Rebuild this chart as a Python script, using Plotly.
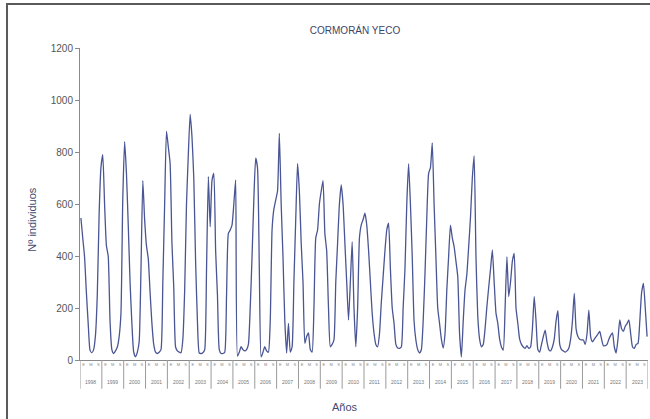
import plotly.graph_objects as go

years = list(range(1998, 2024))
season_labels = ["E", "M", "S"]

v1998 = [546, 470, 397, 260, 141, 38, 28, 40, 95, 250, 560, 740]
v1999 = [790, 600, 440, 400, 150, 40, 25, 35, 50, 90, 180, 620]
v2000 = [840, 720, 520, 300, 141, 30, 12, 30, 70, 350, 690, 540]
v2001 = [440, 390, 260, 141, 60, 30, 25, 30, 40, 300, 600, 880]
v2002 = [820, 756, 450, 280, 50, 35, 30, 28, 80, 270, 600, 790]
v2003 = [945, 860, 700, 380, 150, 27, 25, 28, 40, 350, 705, 513]
v2004 = [690, 718, 420, 250, 40, 25, 25, 30, 250, 487, 500, 519]
v2005 = [600, 692, 15, 30, 51, 40, 35, 40, 60, 200, 397, 620]
v2006 = [776, 740, 350, 12, 30, 51, 35, 30, 150, 500, 580, 615]
v2007 = [650, 872, 600, 397, 150, 27, 141, 30, 50, 300, 540, 756]
v2008 = [650, 450, 300, 64, 90, 104, 40, 30, 200, 470, 500, 600]
v2009 = [650, 690, 487, 420, 200, 51, 60, 77, 300, 450, 600, 673]
v2010 = [600, 450, 300, 154, 300, 455, 200, 51, 200, 470, 520, 540]
v2011 = [565, 520, 423, 300, 180, 104, 60, 51, 100, 220, 320, 420]
v2012 = [500, 526, 350, 200, 141, 60, 46, 45, 50, 200, 350, 600]
v2013 = [755, 600, 397, 150, 77, 40, 27, 40, 150, 333, 550, 718]
v2014 = [740, 835, 600, 397, 200, 141, 80, 46, 100, 270, 400, 519]
v2015 = [470, 436, 380, 321, 100, 12, 150, 270, 330, 436, 550, 700]
v2016 = [785, 400, 167, 80, 51, 60, 120, 205, 280, 350, 423, 300]
v2017 = [180, 141, 80, 50, 38, 200, 397, 244, 300, 380, 410, 200]
v2018 = [141, 80, 60, 50, 45, 55, 45, 50, 120, 244, 150, 40]
v2019 = [30, 60, 90, 115, 70, 40, 35, 50, 80, 150, 190, 60]
v2020 = [40, 35, 30, 35, 45, 80, 150, 256, 120, 90, 80, 77]
v2021 = [77, 60, 100, 192, 90, 70, 80, 90, 100, 110, 80, 55]
v2022 = [55, 60, 80, 95, 104, 50, 27, 80, 154, 120, 110, 130]
v2023 = [140, 154, 100, 50, 45, 60, 64, 150, 260, 295, 200, 90]

series = [v1998, v1999, v2000, v2001, v2002, v2003, v2004, v2005, v2006,
          v2007, v2008, v2009, v2010, v2011, v2012, v2013, v2014, v2015,
          v2016, v2017, v2018, v2019, v2020, v2021, v2022, v2023]

values = [v for yr in series for v in yr]
xs = [i + 0.5 for i in range(len(values))]

n_years = len(years)
total = n_years * 12

fig = go.Figure()
fig.add_trace(go.Scatter(
    x=xs, y=values, mode="lines",
    line=dict(color="#4a5593", width=1.3, shape="spline", smoothing=0.5),
    hoverinfo="skip", showlegend=False,
))

tickvals = []
ticktext = []
for k in range(n_years):
    for j, lab in enumerate(season_labels):
        tickvals.append(k * 12 + 2 + 4 * j)
        ticktext.append(lab)

shapes = []
for k in range(n_years + 1):
    shapes.append(dict(type="line", xref="x", yref="paper",
                       x0=k * 12, x1=k * 12, y0=0, y1=-0.092,
                       line=dict(color="#9a9a9a", width=1)))
# outer frame
shapes.append(dict(type="rect", xref="paper", yref="paper",
                   x0=-0.1285, x1=1.05, y0=-0.35, y1=1.141,
                   line=dict(color="#5a5a5a", width=2), layer="below"))

annotations = []
for k, yr in enumerate(years):
    annotations.append(dict(x=k * 12 + 6, y=-0.07, xref="x", yref="paper",
                            text=str(yr), showarrow=False,
                            font=dict(size=5, color="#777777"),
                            xanchor="center", yanchor="middle"))
annotations.append(dict(x=0.467, y=-0.151, xref="paper", yref="paper",
                        text="Años", showarrow=False,
                        font=dict(size=11, color="#444a70"),
                        xanchor="center", yanchor="middle"))
annotations.append(dict(x=-0.085, y=0.449, xref="paper", yref="paper",
                        text="Nº individuos", showarrow=False, textangle=-90,
                        font=dict(size=11, color="#444a70"),
                        xanchor="center", yanchor="middle"))

fig.update_layout(
    width=650, height=419,
    margin=dict(l=80, r=2, t=48, b=59),
    paper_bgcolor="white", plot_bgcolor="white",
    font=dict(family="Liberation Sans, Arial, sans-serif", color="#555555"),
    title=dict(text="CORMORÁN YECO", x=355 / 650, xanchor="center",
               y=1 - 30 / 419, yanchor="middle",
               font=dict(size=10, color="#3d4466")),
    xaxis=dict(range=[0, total], showgrid=False, zeroline=False,
               showline=True, linecolor="#8a8a8a", linewidth=1,
               tickmode="array", tickvals=tickvals, ticktext=ticktext,
               tickfont=dict(size=4, color="#888888"), ticks="",
               tickangle=0, fixedrange=True),
    yaxis=dict(range=[0, 1200], dtick=200, showgrid=False, zeroline=False,
               showline=True, linecolor="#8a8a8a", linewidth=1,
               ticks="outside", ticklen=4, tickcolor="#8a8a8a",
               tickfont=dict(size=10, color="#555555"), fixedrange=True),
    shapes=shapes,
    annotations=annotations,
)

fig.write_html(
    "out.html",
    config={"displayModeBar": False},
    post_script="document.body.style.margin='0';document.body.style.overflow='hidden';",
)
